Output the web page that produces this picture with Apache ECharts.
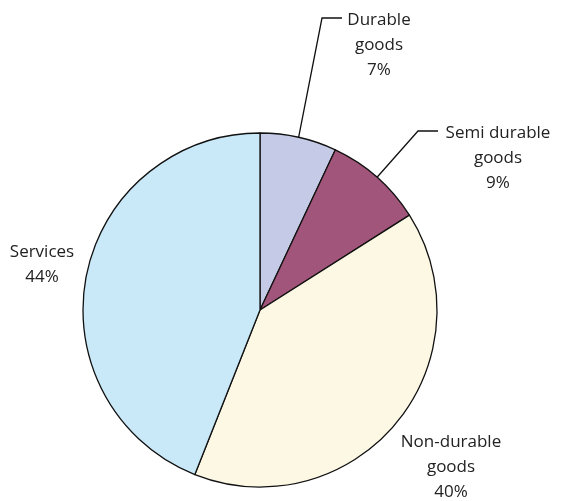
<!DOCTYPE html>
<html>
<head>
<meta charset="utf-8">
<script src="https://cdn.jsdelivr.net/npm/echarts@6/dist/echarts.min.js"></script>
<style>
html,body{margin:0;padding:0;background:#fff;}
#chart{width:562px;height:501px;}
</style>
</head>
<body>
<div id="chart"></div>
<script>
var categories = ['Durable\ngoods', 'Semi durable\ngoods', 'Non-durable\ngoods', 'Services'];
var values = [7, 9, 40, 44];
var colors = ['#c5cbe6', '#a2557a', '#fcf8e4', '#c9e9f8'];
var showLeader = [true, true, false, false];

// label anchor positions (text block centers) and elbow points for leaders
var labelPos = [[379, 45], [498, 158], [451, 467], [42, 265]];
var elbows = [[[322, 18], [342, 18]], [[418, 131], [438, 131]], null, null];

var chart = echarts.init(document.getElementById('chart'));
chart.setOption({
  animation: false,
  series: [{
    type: 'pie',
    center: [260, 310],
    radius: 177,
    startAngle: 90,
    clockwise: true,
    avoidLabelOverlap: false,
    itemStyle: { borderColor: '#111', borderWidth: 1.3 },
    label: {
      show: true,
      position: 'outside',
      fontFamily: 'Open Sans',
      fontSize: 17,
      lineHeight: 25,
      color: '#222',
      align: 'center',
      formatter: function (p) { return p.name + '\n' + p.value + '%'; }
    },
    labelLine: { show: true, lineStyle: { color: '#111', width: 1.3 } },
    labelLayout: function (params) {
      var i = params.dataIndex;
      var res = { x: labelPos[i][0], y: labelPos[i][1], align: 'center', verticalAlign: 'middle' };
      if (elbows[i] && params.labelLinePoints) {
        res.labelLinePoints = [params.labelLinePoints[0], elbows[i][0], elbows[i][1]];
      }
      return res;
    },
    data: categories.map(function (c, i) {
      return {
        name: c,
        value: values[i],
        itemStyle: { color: colors[i] },
        labelLine: { show: showLeader[i] }
      };
    })
  }]
});
</script>
</body>
</html>
